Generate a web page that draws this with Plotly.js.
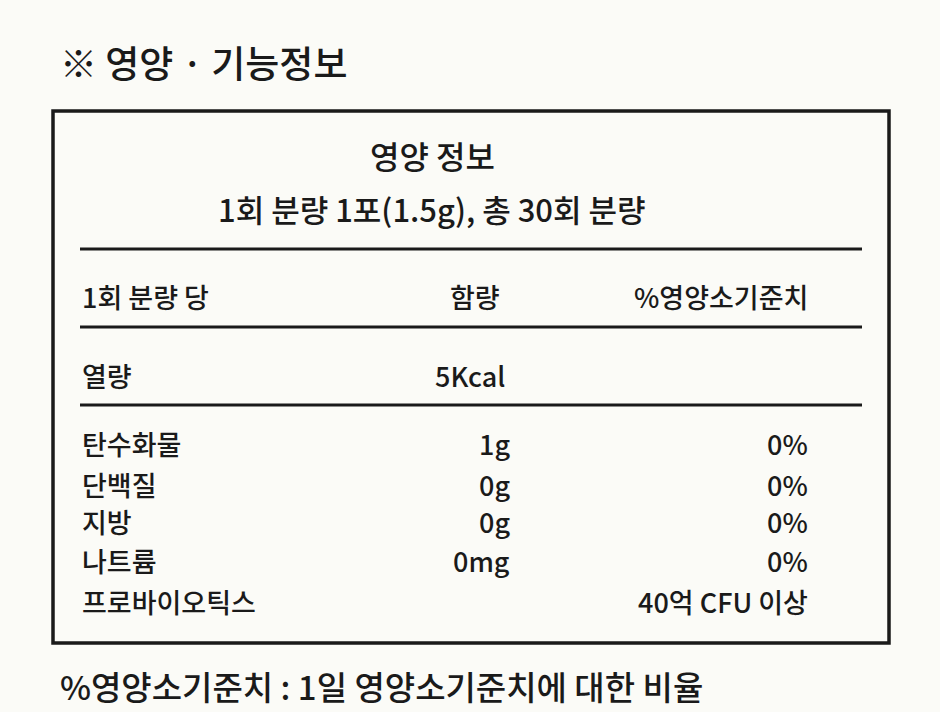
<!DOCTYPE html>
<html>
<head>
<meta charset="utf-8">
<script src="https://cdn.plot.ly/plotly-3.0.1.min.js"></script>
<style>body{margin:0;background:#fbfbf7;}</style>
</head>
<body>
<div id="chart" style="width:940px;height:712px;"></div>
<script>
var heading = '※ 영양 · 기능정보';
var boxTitle = '영양 정보';
var servingText = '1회 분량 1포(1.5g), 총 30회 분량';
var headers = ['1회 분량 당', '함량', '%영양소기준치'];
var energyLabel = '열량';
var energyValue = '5Kcal';
var nutrients = ['탄수화물', '단백질', '지방', '나트륨', '프로바이오틱스'];
var amounts = ['1g', '0g', '0g', '0mg', ''];
var percents = ['0%', '0%', '0%', '0%', '40억 CFU 이상'];
var footnote = '%영양소기준치 : 1일 영양소기준치에 대한 비율';

var font = 'Noto Sans CJK KR, Noto Sans, sans-serif';
var ink = '#1a1a1a';
var rowY = [443, 484, 521, 560, 601];

function txt(x, y, s, size, anchor) {
  return {x: x, y: y, xref: 'x', yref: 'y', text: s, showarrow: false,
    xanchor: anchor, yanchor: 'middle',
    font: {family: font, size: size, color: ink, weight: 500}};
}

var ann = [
  txt(58, 62, heading, 37, 'left'),
  txt(432, 155, boxTitle, 32, 'center'),
  txt(432, 208, servingText, 31, 'center'),
  txt(80, 296, headers[0], 27, 'left'),
  txt(475, 296, headers[1], 27, 'center'),
  txt(810, 296, headers[2], 27, 'right'),
  txt(80, 375, energyLabel, 27, 'left'),
  txt(433, 375, energyValue, 27, 'left'),
  txt(58, 686, footnote, 33, 'left')
];
nutrients.forEach(function (n, i) {
  ann.push(txt(80, rowY[i], n, 27, 'left'));
  if (amounts[i]) ann.push(txt(512, rowY[i], amounts[i], 27, 'right'));
  ann.push(txt(810, rowY[i], percents[i], 27, 'right'));
});

var shapes = [
  {type: 'rect', x0: 53, x1: 889, y0: 111, y1: 643, line: {color: ink, width: 3.5}},
  {type: 'line', x0: 80, x1: 862, y0: 249, y1: 249, line: {color: ink, width: 3}},
  {type: 'line', x0: 80, x1: 862, y0: 327, y1: 327, line: {color: ink, width: 3}},
  {type: 'line', x0: 80, x1: 862, y0: 405, y1: 405, line: {color: ink, width: 3}}
];

var layout = {
  width: 940, height: 712,
  margin: {l: 0, r: 0, t: 0, b: 0},
  paper_bgcolor: '#fbfbf7', plot_bgcolor: '#fbfbf7',
  xaxis: {range: [0, 940], visible: false, fixedrange: true},
  yaxis: {range: [712, 0], visible: false, fixedrange: true},
  showlegend: false,
  annotations: ann,
  shapes: shapes
};
Plotly.newPlot('chart', [{x: [], y: [], type: 'scatter'}], layout, {staticPlot: true});
</script>
</body>
</html>
